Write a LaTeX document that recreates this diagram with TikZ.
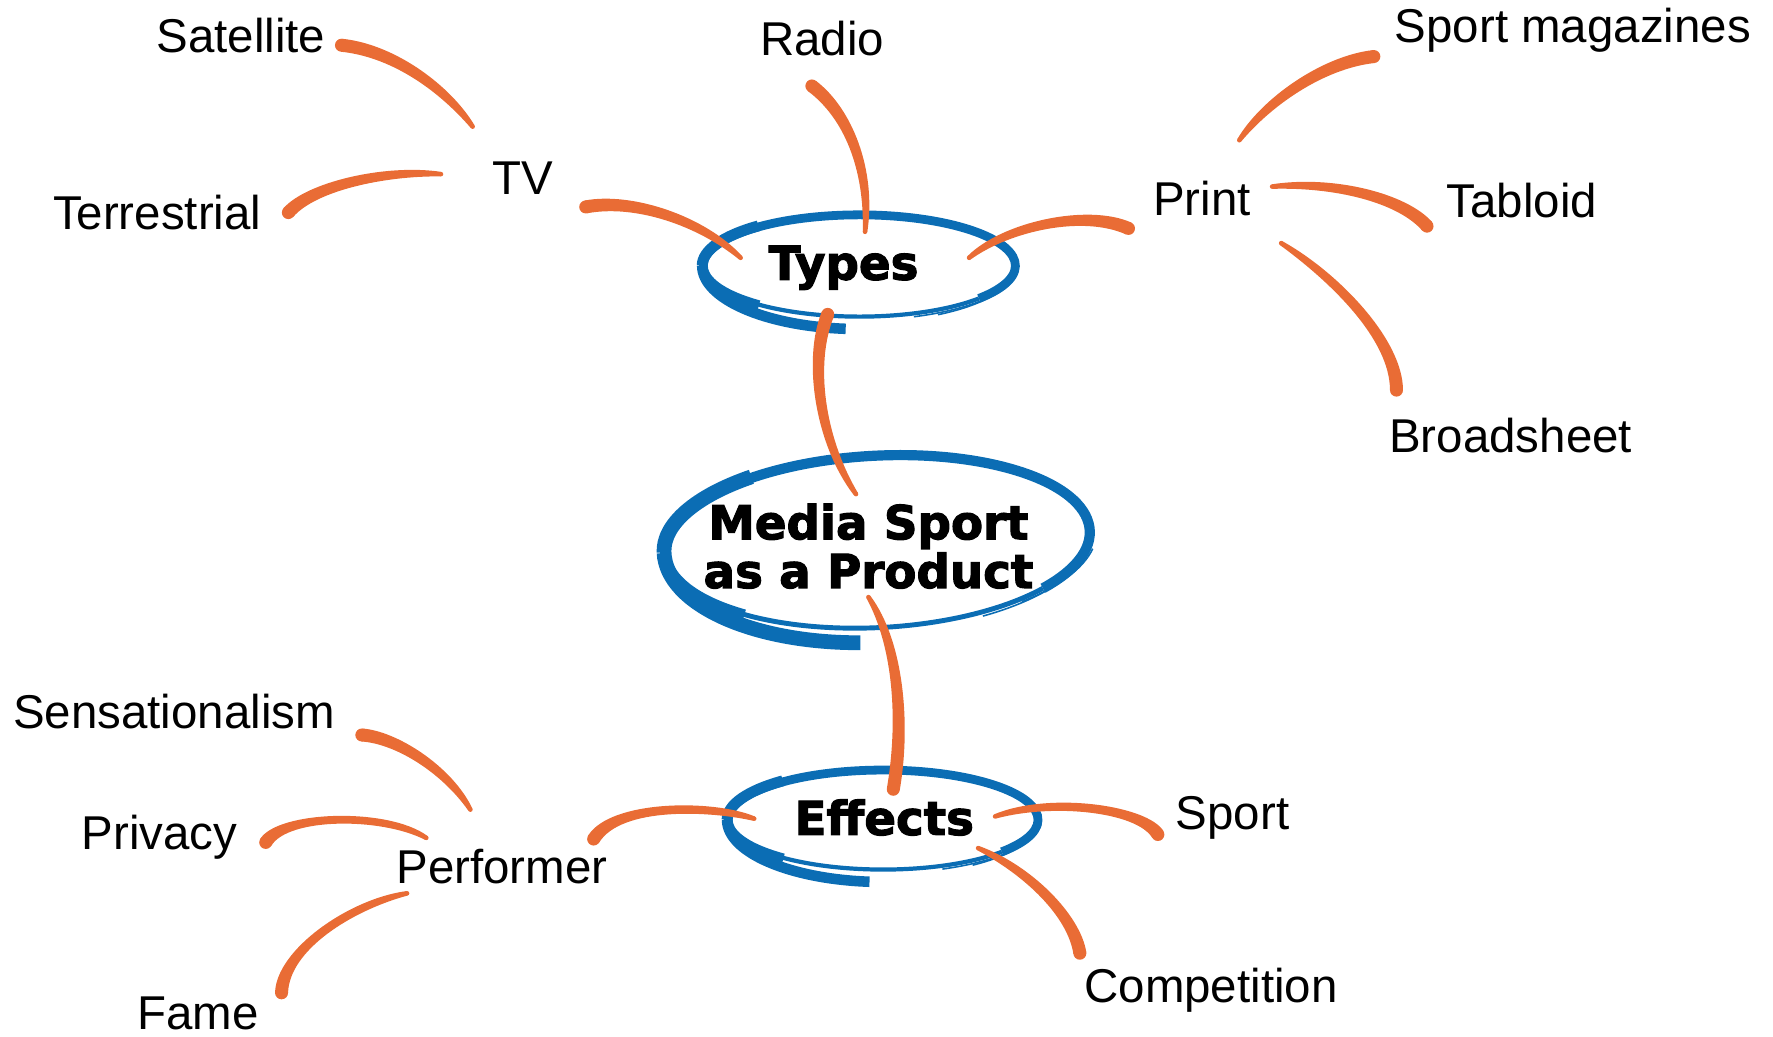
\documentclass[tikz,border=0pt]{standalone}
\usepackage{fontspec}
\setmainfont{Liberation Sans}
\newfontfamily\heavy{DejaVu Sans}[BoldFeatures={FakeBold=2.4}]
\usetikzlibrary{calc}
\definecolor{brushorange}{HTML}{E96C35}
\definecolor{brushblue}{HTML}{0B6DB4}
% tapered brush stroke: thick at #1, narrower at #4
\newcommand\brushline[4]{%
  \coordinate (q0) at (#1);
  \coordinate (q3) at (#4);
  \coordinate (q1) at ($(q0)+(#2)$);
  \coordinate (q2) at ($(q3)+(#3)$);
  \coordinate (na) at ($(q0)!1.85pt!90:(q1)$);
  \coordinate (nb) at ($(q0)!1.85pt!-90:(q1)$);
  \fill[brushorange] (na) .. controls ($(q1)+(na)-(q0)$) and ($(q2)!1.75pt!90:(q3)$) .. ($(q3)!0.65pt!-90:(q2)$)
     -- ($(q3)!0.65pt!90:(q2)$) .. controls ($(q2)!1.75pt!-90:(q3)$) and ($(q1)+(nb)-(q0)$) .. (nb) -- cycle;
  \fill[brushorange] (q0) circle[radius=1.85pt];
  \fill[brushorange] (q3) circle[radius=0.65pt];
}
\begin{document}
\begin{tikzpicture}[x=0.011307cm, y=-0.011307cm,
  lbl/.style={inner sep=0pt, text height=0.86em, text depth=0pt, font=\fontsize{13.5}{16}\selectfont},
  hub/.style={inner sep=0pt, align=center, font=\heavy\bfseries\fontsize{13.3}{10.3}\selectfont},
  hubone/.style={hub, text height=0.86em, text depth=0pt},
  hair/.style={draw=brushblue, line width=0.45pt}]
\useasboundingbox (0,0) rectangle (1568,917);
% nodes
\node[lbl] (sat) at (213,33) {Satellite};
\node[lbl] (radio) at (727,36) {Radio};
\node[lbl] (mags) at (1391,24) {Sport magazines};
\node[lbl] (tv) at (462,159) {TV};
\node[lbl] (terr) at (139,190) {Terrestrial};
\node[lbl] (print) at (1063,177) {Print};
\node[lbl] (tabloid) at (1346,179) {Tabloid};
\node[lbl] (broad) at (1336,387) {Broadsheet};
\node[hubone] (types) at (746,234) {Types};
\node[hub] (main) at (768,483) {Media Sport\\as a Product};
\node[hubone] (effects) at (782,725) {Effects};
\node[lbl] (sens) at (154,631) {Sensationalism};
\node[lbl] (privacy) at (141,738) {Privacy};
\node[lbl] (perf) at (444,768) {Performer};
\node[lbl] (sport) at (1090,720) {Sport};
\node[lbl] (comp) at (1071,873) {Competition};
\node[lbl] (fame) at (175,897) {Fame};
% blue rings
\begin{scope}[shift={(types.center)}]
\begin{scope}[shift={(14,1)}]
  \draw[brushblue, line width=2.5pt] (130:138 and 45) arc[start angle=130, end angle=400, x radius=138, y radius=45];
  \draw[brushblue, line width=1.2pt] (40:138 and 45) arc[start angle=40, end angle=132, x radius=138, y radius=45];
  \draw[brushblue, line width=3.1pt] (180:139 and 46) arc[start angle=180, end angle=230, x radius=139, y radius=46];
  \draw[brushblue, line width=3pt] (180:139 and 56) arc[start angle=180, end angle=95, x radius=139, y radius=56];
  \draw[hair] (10:141 and 48) arc[start angle=10, end angle=70, x radius=141, y radius=48];
  \draw[hair] (15:139 and 50) arc[start angle=15, end angle=60, x radius=139, y radius=50];
\end{scope}
\end{scope}
\begin{scope}[shift={(main.center)}]
\begin{scope}[shift={(8,-4)}, rotate=3]
  \draw[brushblue, line width=2.9pt] (130:188 and 76) arc[start angle=130, end angle=400, x radius=188, y radius=76];
  \draw[brushblue, line width=1.4pt] (40:188 and 76) arc[start angle=40, end angle=132, x radius=188, y radius=76];
  \draw[brushblue, line width=4.2pt] (180:189 and 77) arc[start angle=180, end angle=235, x radius=189, y radius=77];
  \draw[brushblue, line width=4.2pt] (180:189 and 89) arc[start angle=180, end angle=96, x radius=189, y radius=89];
  \draw[hair] (8:191 and 80) arc[start angle=8, end angle=62, x radius=191, y radius=80];
  \draw[hair] (12:194 and 78) arc[start angle=12, end angle=50, x radius=194, y radius=78];
\end{scope}
\end{scope}
\begin{scope}[shift={(effects.center)}]
\begin{scope}[shift={(-1,0)}]
  \draw[brushblue, line width=2.5pt] (130:137 and 44) arc[start angle=130, end angle=400, x radius=137, y radius=44];
  \draw[brushblue, line width=1.2pt] (40:137 and 44) arc[start angle=40, end angle=132, x radius=137, y radius=44];
  \draw[brushblue, line width=3.1pt] (180:138 and 45) arc[start angle=180, end angle=230, x radius=138, y radius=45];
  \draw[brushblue, line width=3pt] (180:138 and 55) arc[start angle=180, end angle=95, x radius=138, y radius=55];
  \draw[hair] (5:140 and 47) arc[start angle=5, end angle=68, x radius=140, y radius=47];
  \draw[hair] (12:138 and 49) arc[start angle=12, end angle=55, x radius=138, y radius=49];
\end{scope}
\end{scope}
% connectors (thick end first)
\brushline{[shift={(89,7)}]sat.center}{48,5}{-23,-32}{[shift={(-44,-47)}]tv.center}
\brushline{[shift={(116,-2)}]terr.center}{20,-23}{-50,-4}{[shift={(-72,-5)}]tv.center}
\brushline{[shift={(56,24)}]tv.center}{42,-8}{-35,-33}{[shift={(-91,-6)}]types.center}
\brushline{[shift={(-9,40)}]radio.center}{32,24}{5,-55}{[shift={(19,-29)}]types.center}
\brushline{[shift={(-65,25)}]print.center}{-38,-17}{33,-28}{[shift={(111,-6)}]types.center}
\brushline{[shift={(-176,26)}]mags.center}{-45,5}{24,-34}{[shift={(33,-53)}]print.center}
\brushline{[shift={(-84,21)}]tabloid.center}{-22,-25}{55,-5}{[shift={(62,-12)}]print.center}
\brushline{[shift={(-101,-42)}]broad.center}{0,-45}{47,30}{[shift={(70,38)}]print.center}
\brushline{[shift={(-14,44)}]types.center}{-17,42}{-32,-47}{[shift={(-11,-46)}]main.center}
\brushline{[shift={(8,-27)}]effects.center}{10,-58}{27,42}{[shift={(0,45)}]main.center}
\brushline{[shift={(81,-26)}]perf.center}{20,-32}{-37,-12}{[shift={(-115,-1)}]effects.center}
\brushline{[shift={(166,19)}]sens.center}{30,2}{-21,-36}{[shift={(-28,-52)}]perf.center}
\brushline{[shift={(94,7)}]privacy.center}{15,-25}{-37,-23}{[shift={(-67,-27)}]perf.center}
\brushline{[shift={(74,-19)}]fame.center}{1,-38}{-50,10}{[shift={(-84,22)}]perf.center}
\brushline{[shift={(-66,18)}]sport.center}{-14,-23}{50,-17}{[shift={(98,-3)}]effects.center}
\brushline{[shift={(-116,-30)}]comp.center}{-5,-33}{45,20}{[shift={(83,25)}]effects.center}
\end{tikzpicture}
\end{document}
